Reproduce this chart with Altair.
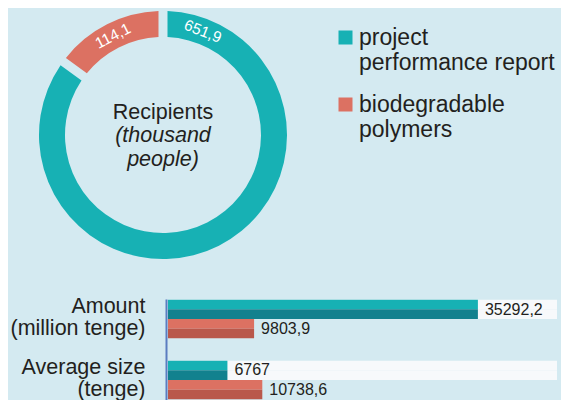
import altair as alt
import pandas as pd

# ---------------- data ----------------
series = ["project performance report", "biodegradable polymers"]
recipients = [651.9, 114.1]          # thousand people
light = ["#17b1b4", "#dc7162"]
dark = ["#12818e", "#b9584b"]

center_title = ["Recipients"]
center_note = ["(thousand\npeople)"]

metrics = ["Amount (million tenge)", "Average size (tenge)"]
teal_vals = [35292.2, 6767]
salmon_vals = [9803.9, 10738.6]
track_end = 44300

BG = "#d4eaf1"
TXT = "#231f20"
FONT = "Liberation Sans"

# ---------------- tables ----------------
total = sum(recipients)
donut = pd.DataFrame({"series": series, "value": recipients, "idx": [0, 1]})
lab_pos = [recipients[0] * 0.0686, recipients[0] + recipients[1] / 2]
arc_labels = pd.DataFrame({"value": recipients, "pos": lab_pos})
arc_labels["ang"] = arc_labels["pos"] / total * 360

tones = ["0a", "0b", "1a", "1b"]
bar_rows, track_rows, val_rows = [], [], []
for m, tv, sv in zip(metrics, teal_vals, salmon_vals):
    for si, v in enumerate((tv, sv)):
        for half in "ab":
            bar_rows.append(dict(metric=m, row=f"{si}{half}", value=v))
        val_rows.append(dict(metric=m, row=f"{si}a", value=v))
    for half in "ab":
        track_rows.append(dict(metric=m, row=f"0{half}", value=track_end))
bars_df = pd.DataFrame(bar_rows)
track_df = pd.DataFrame(track_rows)
vals_df = pd.DataFrame(val_rows)

# ---------------- donut ----------------
CX, CY = 155, 127
legend_expr = ("[slice(datum.label, 0, indexof(datum.label, ' ')), "
               "slice(datum.label, indexof(datum.label, ' ') + 1)]")

arcs = alt.Chart(donut).mark_arc(innerRadius=98, outerRadius=124, padAngle=0.057).encode(
    theta=alt.Theta("value:Q", stack=True),
    order=alt.Order("idx:Q"),
    color=alt.Color(
        "series:N",
        scale=alt.Scale(domain=series, range=light),
        legend=alt.Legend(
            orient="none", legendX=326, legendY=18, title=None,
            symbolType="square", symbolSize=196, symbolStrokeWidth=0,
            labelFontSize=23, labelFont=FONT, labelColor=TXT, labelLimit=0,
            labelExpr=legend_expr, rowPadding=18, labelOffset=2, padding=0,
        ),
    ),
    x=alt.value(CX), y=alt.value(CY),
)

arc_text = alt.Chart(arc_labels).transform_calculate(
    txt="replace(toString(datum.value), '.', ',')"
).mark_text(radius=111, fontSize=15.5, font=FONT, color="white",
            align="center", baseline="middle").encode(
    theta=alt.Theta("pos:Q", stack=False),
    angle=alt.Angle("ang:Q", scale=None),
    text="txt:N",
    x=alt.value(CX), y=alt.value(CY),
)

title_text = alt.Chart(pd.DataFrame({"t": center_title})).mark_text(
    fontSize=21.5, font=FONT, color=TXT, align="center", baseline="alphabetic"
).encode(text="t:N", x=alt.value(CX), y=alt.value(111.3))

note_text = alt.Chart(pd.DataFrame({"t": center_note})).mark_text(
    fontSize=21.5, font=FONT, color=TXT, align="center", baseline="alphabetic",
    fontStyle="italic", lineBreak="\n", lineHeight=23.5
).encode(text="t:N", x=alt.value(CX), y=alt.value(134.3))

# ---------------- bars ----------------
axis_expr = ("[slice(datum.label, 0, indexof(datum.label, ' (')), "
             "slice(datum.label, indexof(datum.label, ' (') + 1)]")
Y = alt.Y(
    "metric:N",
    scale=alt.Scale(domain=metrics, range=[291, 392], paddingInner=0.366, paddingOuter=0.011),
    axis=alt.Axis(
        title=None, orient="left", offset=-158, ticks=False, grid=False,
        domainColor="#5b7dc0", domainWidth=2, labelPadding=21,
        labelFontSize=21.5, labelFont=FONT, labelColor=TXT, labelLineHeight=22,
        labelExpr=axis_expr, labelOffset=-12, labelLimit=0,
    ),
)
YO = alt.YOffset("row:N", scale=alt.Scale(domain=tones, paddingInner=0, paddingOuter=0))
X = alt.X("value:Q", scale=alt.Scale(domain=[0, track_end], range=[160, 549], nice=False), axis=None)

track = alt.Chart(track_df).mark_bar(color="#f7f9fb").encode(x=X, y=Y, yOffset=YO)

bars = alt.Chart(bars_df).mark_bar().encode(
    x=X, y=Y, yOffset=YO,
    color=alt.Color("row:N", scale=alt.Scale(domain=tones, range=[light[0], dark[0], light[1], dark[1]]),
                    legend=None),
)

val_text = alt.Chart(vals_df).transform_calculate(
    txt="replace(toString(datum.value), '.', ',')"
).mark_text(fontSize=16, font=FONT, color=TXT, align="left", baseline="middle", dx=7, dy=5).encode(
    x=X, y=Y, yOffset=YO, text="txt:N"
)

chart = alt.layer(
    arcs, arc_text, title_text, note_text, track, bars, val_text
).resolve_scale(color="independent").properties(
    width=553, height=392, padding=0,
    autosize=alt.AutoSizeParams(type="none"),
    background=BG,
).configure_view(stroke=None)

chart.save("out.html", embed_options={"renderer": "svg", "actions": False})
